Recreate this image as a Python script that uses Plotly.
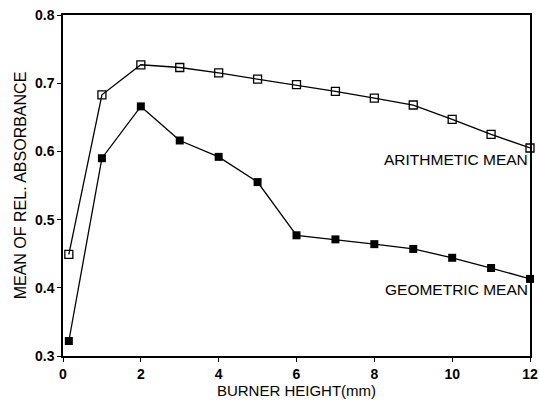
import plotly.graph_objects as go

x_vals = [0.15, 1, 2, 3, 4, 5, 6, 7, 8, 9, 10, 11, 12]
arith_mean = [0.449, 0.683, 0.727, 0.723, 0.715, 0.706, 0.698, 0.688, 0.678, 0.668, 0.647, 0.625, 0.605]
geom_mean = [0.322, 0.590, 0.666, 0.616, 0.592, 0.555, 0.477, 0.471, 0.464, 0.457, 0.444, 0.429, 0.413]
x_ticks = [0, 2, 4, 6, 8, 10, 12]
y_ticks = [0.3, 0.4, 0.5, 0.6, 0.7, 0.8]

font = "Liberation Sans, Arial, sans-serif"

fig = go.Figure()
fig.add_trace(go.Scatter(
    x=x_vals, y=arith_mean, mode="lines+markers",
    line=dict(color="black", width=1.3),
    marker=dict(symbol="square-open", size=8, color="black", line=dict(width=1.3)),
    cliponaxis=False, showlegend=False))
fig.add_trace(go.Scatter(
    x=x_vals, y=geom_mean, mode="lines+markers",
    line=dict(color="black", width=1.3),
    marker=dict(symbol="square", size=8, color="black"),
    cliponaxis=False, showlegend=False))

fig.add_annotation(x=12, y=0.588, text="ARITHMETIC MEAN", showarrow=False,
                   xanchor="right", yanchor="middle",
                   font=dict(family=font, size=15.5, color="black"))
fig.add_annotation(x=12, y=0.397, text="GEOMETRIC MEAN", showarrow=False,
                   xanchor="right", yanchor="middle",
                   font=dict(family=font, size=15.5, color="black"))

fig.update_layout(
    width=539, height=405,
    margin=dict(l=63, r=9, t=15, b=49),
    paper_bgcolor="white", plot_bgcolor="white",
    font=dict(family=font, color="black"),
)
fig.update_xaxes(
    range=[0, 12], tickvals=x_ticks, ticktext=[f"<b>{v}</b>" for v in x_ticks],
    ticks="outside", ticklen=4, tickwidth=1.2, tickcolor="black",
    showline=True, linecolor="black", linewidth=1.5, mirror=True,
    showgrid=False, zeroline=False, automargin=False,
    tickfont=dict(family=font, size=14, color="black"),
    title=dict(text="BURNER HEIGHT(mm)", font=dict(family=font, size=15, color="black"), standoff=2),
)
fig.update_yaxes(
    range=[0.3, 0.8], tickvals=y_ticks, ticktext=[f"<b>{v:.1f}</b>" for v in y_ticks],
    ticks="outside", ticklen=4, tickwidth=1.2, tickcolor="black",
    showline=True, linecolor="black", linewidth=1.5, mirror=True,
    showgrid=False, zeroline=False, automargin=False,
    tickfont=dict(family=font, size=14, color="black"),
    title=dict(text="MEAN OF REL. ABSORBANCE", font=dict(family=font, size=16, color="black"), standoff=4),
)

fig.write_html("out.html")
